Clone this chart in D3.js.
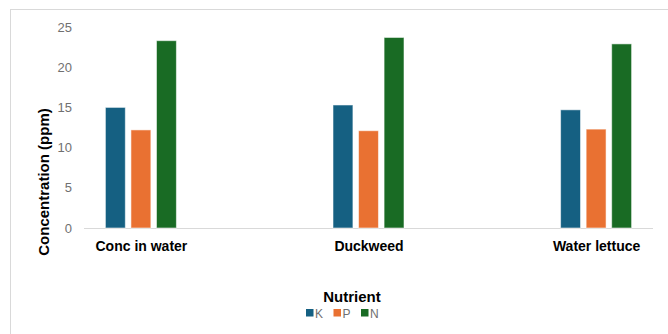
<!DOCTYPE html>
<html>
<head>
<meta charset="utf-8">
<script src="https://cdn.jsdelivr.net/npm/d3@7"></script>
<style>
  html, body { margin: 0; padding: 0; background: #fff; }
  svg { display: block; font-family: "Liberation Sans", Arial, sans-serif; }
</style>
</head>
<body>
<svg id="chart" width="668" height="334"></svg>
<script>
// Nutrient concentrations per sample (ppm)
const categories = ["Conc in water", "Duckweed", "Water lettuce"];
const nutrients = ["K", "P", "N"];
const valuesK = [15.0, 15.3, 14.7];
const valuesP = [12.2, 12.1, 12.3];
const valuesN = [23.3, 23.7, 22.9];
const yTicks = [0, 5, 10, 15, 20, 25];
const colors = ["#156082", "#E97132", "#196B24"];

const seriesValues = { K: valuesK, P: valuesP, N: valuesN };
const rows = categories.map((c, i) => ({
  category: c,
  values: nutrients.map(n => ({ key: n, value: seriesValues[n][i] }))
}));

const svg = d3.select("#chart");

// Chart frame
svg.append("rect")
  .attr("x", 10.5).attr("y", 9.5)
  .attr("width", 700).attr("height", 400)
  .attr("fill", "none")
  .attr("stroke", "#d9d9d9")
  .attr("stroke-width", 1);

const plot = { left: 84, right: 653, top: 27, bottom: 228 };

const x = d3.scalePoint()
  .domain(categories)
  .range([plot.left, plot.right])
  .padding(0.25);

const xInner = d3.scaleBand()
  .domain(nutrients)
  .range([-35.5, 35.5])
  .paddingInner(0.22);

const y = d3.scaleLinear()
  .domain([0, 25])
  .range([plot.bottom, plot.top]);

const color = d3.scaleOrdinal().domain(nutrients).range(colors);

// Y axis labels (no axis line)
const yAxis = svg.append("g")
  .attr("transform", `translate(${plot.left - 12},0)`)
  .call(d3.axisLeft(y).tickValues(yTicks).tickSize(0).tickPadding(0));
yAxis.select(".domain").remove();
yAxis.selectAll("text")
  .attr("fill", "#707070")
  .style("font-size", "13px");

// Baseline
svg.append("line")
  .attr("x1", plot.left).attr("x2", plot.right)
  .attr("y1", y(0) + 0.5).attr("y2", y(0) + 0.5)
  .attr("stroke", "#d9d9d9")
  .attr("stroke-width", 1);

// Bars
const groups = svg.append("g").selectAll("g")
  .data(rows)
  .join("g")
  .attr("transform", d => `translate(${x(d.category)},0)`);

groups.selectAll("rect")
  .data(d => d.values)
  .join("rect")
  .attr("x", d => xInner(d.key))
  .attr("width", xInner.bandwidth())
  .attr("y", d => y(d.value))
  .attr("height", d => y(0) - y(d.value))
  .attr("fill", d => color(d.key))
  .attr("stroke", "rgba(255,255,255,0.55)")
  .attr("stroke-width", 1);

// Category labels
const xAxis = svg.append("g")
  .attr("transform", `translate(0,${plot.bottom})`)
  .call(d3.axisBottom(x).tickSize(0).tickPadding(13));
xAxis.select(".domain").remove();
xAxis.selectAll("text")
  .attr("fill", "#000")
  .style("font-size", "14px")
  .style("font-weight", "bold");

// Y axis title
svg.append("text")
  .attr("transform", "translate(49,182) rotate(-90)")
  .attr("text-anchor", "middle")
  .attr("fill", "#000")
  .style("font-size", "15px")
  .style("font-weight", "bold")
  .text("Concentration (ppm)");

// Legend
svg.append("text")
  .attr("x", 352).attr("y", 302)
  .attr("text-anchor", "middle")
  .attr("fill", "#000")
  .style("font-size", "15px")
  .style("font-weight", "bold")
  .text("Nutrient");

const legendX = d3.scalePoint().domain(nutrients).range([306, 361]);
const legend = svg.append("g").selectAll("g")
  .data(nutrients)
  .join("g")
  .attr("transform", d => `translate(${legendX(d)},309)`);
legend.append("rect")
  .attr("width", 7.5).attr("height", 7.5)
  .attr("fill", d => color(d));
legend.append("text")
  .attr("x", 9).attr("y", 8.5)
  .attr("fill", "#707070")
  .style("font-size", "12px")
  .text(d => d);
</script>
</body>
</html>
